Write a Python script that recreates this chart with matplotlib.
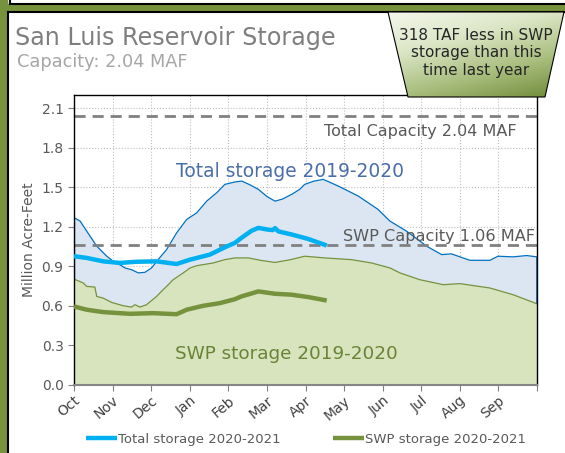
import matplotlib.pyplot as plt
from matplotlib.patches import Polygon, Rectangle
from matplotlib.path import Path
from matplotlib.colors import LinearSegmentedColormap
import numpy as np

# month positions (0 = Oct 1, 12 = end of Sep) and storage in MAF
total_1920_x = [0, 0.16, 0.33, 0.59, 0.85, 1.02, 1.23, 1.32, 1.49, 1.67, 1.84, 2.01, 2.18, 2.40,
                2.66, 2.92, 3.18, 3.44, 3.70, 3.91, 4.17, 4.35, 4.55, 4.78, 5.0, 5.21, 5.4, 5.64,
                5.85, 5.98, 6.2, 6.46, 6.85, 7.37, 7.88, 8.19, 8.62, 9.14, 9.53, 9.78, 10.26,
                10.78, 10.99, 11.38, 11.73, 12.0]
total_1920 = [1.27, 1.243, 1.167, 1.053, 0.977, 0.938, 0.905, 0.888, 0.875, 0.85, 0.855, 0.888,
              0.951, 1.027, 1.154, 1.256, 1.306, 1.395, 1.459, 1.522, 1.540, 1.547, 1.52, 1.484,
              1.43, 1.395, 1.41, 1.446, 1.484, 1.522, 1.545, 1.560, 1.509, 1.433, 1.332, 1.243,
              1.167, 1.053, 0.989, 0.995, 0.946, 0.946, 0.977, 0.972, 0.982, 0.972]

swp_1920_x = [0, 0.24, 0.33, 0.54, 0.59, 0.76, 0.98, 1.28, 1.49, 1.58, 1.71, 1.88, 2.14, 2.31,
              2.40, 2.57, 2.83, 3.01, 3.18, 3.61, 3.91, 4.17, 4.52, 4.85, 5.21, 5.6, 5.98, 6.5,
              7.19, 7.71, 8.19, 8.45, 8.96, 9.57, 10.0, 10.78, 11.38, 12.0]
swp_1920 = [0.804, 0.774, 0.748, 0.743, 0.672, 0.659, 0.626, 0.601, 0.591, 0.609, 0.591, 0.609,
            0.672, 0.723, 0.748, 0.799, 0.85, 0.888, 0.905, 0.926, 0.951, 0.964, 0.964, 0.945,
            0.930, 0.95, 0.977, 0.964, 0.951, 0.926, 0.888, 0.85, 0.799, 0.761, 0.769, 0.736,
            0.685, 0.616]

total_2021_x = [0, 0.33, 0.76, 1.19, 1.62, 2.14, 2.66, 3.01, 3.52, 3.91, 4.17, 4.34, 4.6, 4.78,
                5.0, 5.15, 5.21, 5.3, 5.64, 6.07, 6.55]
total_2021 = [0.977, 0.964, 0.938, 0.926, 0.935, 0.938, 0.918, 0.951, 0.989, 1.045, 1.078,
              1.116, 1.17, 1.192, 1.18, 1.175, 1.19, 1.165, 1.142, 1.108, 1.058]

swp_2021_x = [0, 0.33, 0.76, 1.45, 2.05, 2.66, 2.92, 3.35, 3.78, 4.17, 4.34, 4.78, 5.21, 5.64,
              6.07, 6.55]
swp_2021 = [0.596, 0.571, 0.553, 0.540, 0.545, 0.537, 0.571, 0.601, 0.621, 0.651, 0.672, 0.710,
            0.692, 0.685, 0.667, 0.641]

months = ['Oct', 'Nov', 'Dec', 'Jan', 'Feb', 'Mar', 'Apr', 'May', 'Jun', 'Jul', 'Aug', 'Sep']
total_cap = 2.04
swp_cap = 1.06

green = '#76923C'
txt = '#595959'

plt.rcParams['font.family'] = 'DejaVu Sans'
fig = plt.figure(figsize=(5.65, 4.53), dpi=100)

# frame decorations (green band + black rules)
fig.patches.append(Rectangle((0, 0), 7 / 565, 1, transform=fig.transFigure, color=green, zorder=0))
fig.patches.append(Rectangle((0, 1 - 11 / 453), 1, 7 / 453, transform=fig.transFigure, color=green, zorder=0))
fig.add_artist(plt.Line2D([7.5 / 565] * 2, [0, 1 - 11.5 / 453], transform=fig.transFigure, color='black', lw=1.5))
fig.add_artist(plt.Line2D([7.5 / 565, 1], [1 - 11.5 / 453] * 2, transform=fig.transFigure, color='black', lw=1.5))
fig.add_artist(plt.Line2D([10 / 565, 1], [1 - 3.5 / 453] * 2, transform=fig.transFigure, color='black', lw=1.5))
fig.add_artist(plt.Line2D([10 / 565] * 2, [1 - 3.5 / 453, 1], transform=fig.transFigure, color='black', lw=1.5))

ax = fig.add_axes([74 / 565, 1 - 385 / 453, 463 / 565, 290 / 453])

ax.fill_between(total_1920_x, total_1920, color='#DCE6F2', zorder=1, lw=0)
ax.fill_between(swp_1920_x, swp_1920, color='#D7E4BD', zorder=1.1, lw=0)
ax.plot(total_1920_x, total_1920, color='#0070C0', lw=0.9, zorder=2)
ax.plot(swp_1920_x, swp_1920, color=green, lw=0.9, zorder=2)
ax.vlines([total_1920_x[0]], swp_1920[0], total_1920[0], color='#0070C0', lw=0.9, zorder=2)
ax.vlines([total_1920_x[-1]], swp_1920[-1], total_1920[-1], color='#0070C0', lw=1.2, zorder=2)

ax.axhline(total_cap, color='#808080', ls=(0, (4, 2.5)), lw=2, zorder=2.5)
ax.axhline(swp_cap, color='#808080', ls=(0, (4, 2.5)), lw=2, zorder=2.5)

ax.plot(total_2021_x, total_2021, color='#00B0F0', lw=3.2, zorder=3, solid_capstyle='butt',
        label='Total storage 2020-2021')
ax.plot(swp_2021_x, swp_2021, color=green, lw=3.2, zorder=3, solid_capstyle='butt',
        label='SWP storage 2020-2021')

ax.text(11.48, 1.925, 'Total Capacity 2.04 MAF', ha='right', va='center', fontsize=11.5, color=txt, zorder=4)
ax.text(11.94, 1.126, 'SWP Capacity 1.06 MAF', ha='right', va='center', fontsize=11.6, color=txt, zorder=4)
ax.text(5.6, 1.62, 'Total storage 2019-2020', ha='center', va='center', fontsize=13.4, color='#4A6EA8', zorder=4)
ax.text(5.5, 0.236, 'SWP storage 2019-2020', ha='center', va='center', fontsize=13.2, color='#6A8437', zorder=4)

ax.set_xlim(0, 12)
ax.set_ylim(0, 2.2)
ax.set_yticks(np.arange(0, 2.11, 0.3))
ax.set_yticklabels([f'{v:.1f}' for v in np.arange(0, 2.11, 0.3)])
ax.set_xticks(range(13))
ax.set_xticklabels(months + [''], rotation=40, ha='right', rotation_mode='anchor')
ax.grid(True, color='#BFBFBF', ls=':', lw=0.8, zorder=0)
ax.set_axisbelow(True)
ax.tick_params(axis='both', colors='#808080', labelcolor=txt, labelsize=10, length=4)
ax.tick_params(axis='x', labelcolor='#404040', pad=2)
for s in ['top', 'right', 'left']:
    ax.spines[s].set_color('black')
    ax.spines[s].set_linewidth(1)
ax.spines['bottom'].set_color('#868686')
ax.spines['bottom'].set_linewidth(1.5)
ax.set_ylabel('Million Acre-Feet', color=txt, fontsize=10, labelpad=4)

fig.legend(loc='lower center', bbox_to_anchor=(0.542, -0.01), ncol=2, frameon=False, fontsize=9.5,
           labelcolor=txt, handlelength=2.35, handletextpad=0.05, columnspacing=4.0)

# titles
fig.text(15 / 565, 1 - 45 / 453, 'San Luis Reservoir Storage', fontsize=17.2, color='#7F7F7F')
fig.text(17 / 565, 1 - 67 / 453, 'Capacity: 2.04 MAF', fontsize=12.8, color='#A6A6A6')

# callout trapezoid with gradient
pts = np.array([[388, 12], [564, 12], [545, 97], [408, 97]], dtype=float)
pts_fig = np.column_stack([pts[:, 0] / 565, 1 - pts[:, 1] / 453])
poly = Polygon(pts_fig, closed=True, transform=fig.transFigure, facecolor='none',
               edgecolor='black', lw=0.8, zorder=5)
fig.add_artist(poly)
gx, gy = np.meshgrid(np.linspace(0, 1, 200), np.linspace(0, 1, 100))
grad = gx * 0.35 + gy * 0.65
cm = LinearSegmentedColormap.from_list('g', ['#F4F7EC', '#DCE6C6', '#A9BE7E', '#6E8A35'])
gax = fig.add_axes([388 / 565, 1 - 97 / 453, 176 / 565, 85 / 453], zorder=4)
im = gax.imshow(grad, cmap=cm, aspect='auto', extent=[pts_fig[0, 0], pts_fig[1, 0], pts_fig[3, 1], pts_fig[0, 1]],
                transform=fig.transFigure)
im.set_clip_path(Path(pts_fig), fig.transFigure)
gax.axis('off')
fig.text(476 / 565, 1 - 53 / 453, '318 TAF less in SWP\nstorage than this\ntime last year',
         ha='center', va='center', fontsize=11, color='#262626', linespacing=1.2, zorder=6)

plt.savefig('out.png', dpi=100)
